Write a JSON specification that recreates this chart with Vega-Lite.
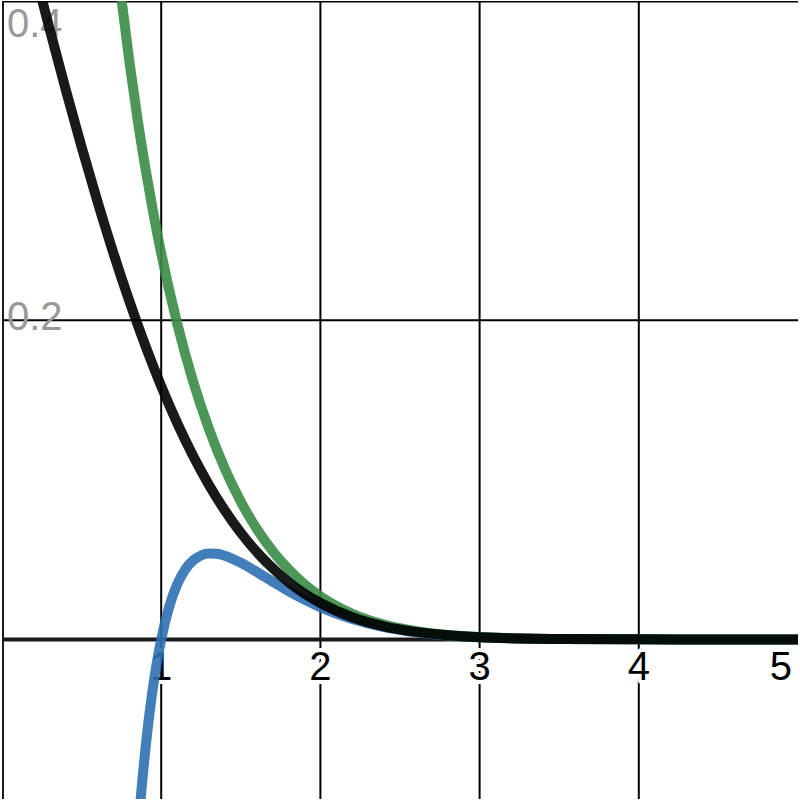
{
  "$schema": "https://vega.github.io/schema/vega-lite/v6.json",
  "width": 800,
  "height": 800,
  "autosize": {"type": "fit", "contains": "padding"},
  "padding": 0,
  "background": "white",
  "config": {"view": {"stroke": null}},
  "datasets": {
    "vgrid": [{"x": 1}, {"x": 2}, {"x": 3}, {"x": 4}],
    "hgrid": [{"y": 0.2}],
    "topgrid": [{"y": 0.4}],
    "yaxis": [{"x": 0}],
    "xaxis": [{"y": 0}],
    "xlabels": [{"x": 1, "y": 0, "label": "1"}, {"x": 2, "y": 0, "label": "2"}, {"x": 3, "y": 0, "label": "3"}, {"x": 4, "y": 0, "label": "4"}],
    "xlabel5": [{"x": 5, "y": 0, "label": "5"}],
    "ylabel2": [{"x": 0, "y": 0.2, "label": "0.2"}],
    "ylabel4": [{"x": 0, "y": 0.4, "label": "0.4"}],
    "blue": [
      {"x": 0.8, "y": -0.2037}, {"x": 0.82, "y": -0.1694}, {"x": 0.84, "y": -0.1393}, {"x": 0.86, "y": -0.1128},
      {"x": 0.88, "y": -0.0897}, {"x": 0.9, "y": -0.0694}, {"x": 0.92, "y": -0.0515}, {"x": 0.94, "y": -0.0359},
      {"x": 0.96, "y": -0.0223}, {"x": 0.98, "y": -0.0104}, {"x": 1.0, "y": 0}, {"x": 1.05, "y": 0.0204},
      {"x": 1.1, "y": 0.0344}, {"x": 1.15, "y": 0.0437}, {"x": 1.2, "y": 0.0494}, {"x": 1.25, "y": 0.0526},
      {"x": 1.3, "y": 0.0538}, {"x": 1.35, "y": 0.0536}, {"x": 1.4, "y": 0.0524}, {"x": 1.5, "y": 0.048},
      {"x": 1.6, "y": 0.0423}, {"x": 1.7, "y": 0.0362}, {"x": 1.8, "y": 0.0303}, {"x": 1.9, "y": 0.025},
      {"x": 2.0, "y": 0.0202}, {"x": 2.2, "y": 0.0128}, {"x": 2.4, "y": 0.0077}, {"x": 2.6, "y": 0.0045},
      {"x": 2.8, "y": 0.0025}, {"x": 3.0, "y": 0.0013}, {"x": 3.25, "y": 0.00057}, {"x": 3.5, "y": 0.00023},
      {"x": 4.0, "y": 0.00003}, {"x": 4.5, "y": 0.000003}, {"x": 5.0, "y": 0.0000003}
    ],
    "green": [
      {"x": 0.6, "y": 0.5554}, {"x": 0.65, "y": 0.4967}, {"x": 0.7, "y": 0.4461}, {"x": 0.75, "y": 0.4015},
      {"x": 0.8, "y": 0.3621}, {"x": 0.85, "y": 0.327}, {"x": 0.9, "y": 0.2957}, {"x": 0.95, "y": 0.2674},
      {"x": 1.0, "y": 0.242}, {"x": 1.1, "y": 0.1981}, {"x": 1.2, "y": 0.1618}, {"x": 1.3, "y": 0.1318},
      {"x": 1.4, "y": 0.1069}, {"x": 1.5, "y": 0.0863}, {"x": 1.6, "y": 0.0693}, {"x": 1.7, "y": 0.0553},
      {"x": 1.8, "y": 0.0439}, {"x": 1.9, "y": 0.0345}, {"x": 2.0, "y": 0.027}, {"x": 2.2, "y": 0.0161},
      {"x": 2.4, "y": 0.0093}, {"x": 2.6, "y": 0.0052}, {"x": 2.8, "y": 0.0028}, {"x": 3.0, "y": 0.00148},
      {"x": 3.25, "y": 0.00062}, {"x": 3.5, "y": 0.00025}, {"x": 4.0, "y": 0.000034}, {"x": 4.5, "y": 0.0000036},
      {"x": 5.0, "y": 0.0000003}
    ],
    "black": [
      {"x": 0.0, "y": 0.5}, {"x": 0.1, "y": 0.4602}, {"x": 0.2, "y": 0.4207}, {"x": 0.3, "y": 0.3821},
      {"x": 0.4, "y": 0.3446}, {"x": 0.5, "y": 0.3085}, {"x": 0.6, "y": 0.2743}, {"x": 0.7, "y": 0.242},
      {"x": 0.8, "y": 0.2119}, {"x": 0.9, "y": 0.1841}, {"x": 1.0, "y": 0.1587}, {"x": 1.1, "y": 0.1357},
      {"x": 1.2, "y": 0.1151}, {"x": 1.3, "y": 0.0968}, {"x": 1.4, "y": 0.0808}, {"x": 1.5, "y": 0.0668},
      {"x": 1.6, "y": 0.0548}, {"x": 1.7, "y": 0.0446}, {"x": 1.8, "y": 0.0359}, {"x": 1.9, "y": 0.0287},
      {"x": 2.0, "y": 0.0228}, {"x": 2.2, "y": 0.0139}, {"x": 2.4, "y": 0.0082}, {"x": 2.6, "y": 0.0047},
      {"x": 2.8, "y": 0.0026}, {"x": 3.0, "y": 0.00135}, {"x": 3.25, "y": 0.00058}, {"x": 3.5, "y": 0.00023},
      {"x": 4.0, "y": 0.00003}, {"x": 4.5, "y": 0.0000034}, {"x": 5.0, "y": 0.0000003}
    ]
  },
  "layer": [
    {
      "data": {"name": "vgrid"},
      "mark": {"type": "rule", "color": "#000000", "strokeWidth": 2},
      "encoding": {"x": {"field": "x", "type": "quantitative", "scale": {"domain": [0, 5], "nice": false, "zero": false}, "axis": null}}
    },
    {
      "data": {"name": "hgrid"},
      "mark": {"type": "rule", "color": "#000000", "strokeWidth": 2},
      "encoding": {"y": {"field": "y", "type": "quantitative", "scale": {"domain": [-0.1, 0.4], "nice": false, "zero": false}, "axis": null}}
    },
    {
      "data": {"name": "topgrid"},
      "mark": {"type": "rule", "color": "#000000", "strokeWidth": 3, "clip": true},
      "encoding": {"y": {"field": "y", "type": "quantitative", "axis": null}}
    },
    {
      "data": {"name": "yaxis"},
      "mark": {"type": "rule", "color": "#1a1a1a", "strokeWidth": 4, "clip": true},
      "encoding": {"x": {"field": "x", "type": "quantitative", "axis": null}}
    },
    {
      "data": {"name": "xaxis"},
      "mark": {"type": "rule", "color": "#1a1a1a", "strokeWidth": 4},
      "encoding": {"y": {"field": "y", "type": "quantitative", "axis": null}}
    },
    {
      "data": {"name": "xlabels"},
      "mark": {"type": "text", "font": "Liberation Sans", "fontSize": 40, "align": "center", "baseline": "top", "dy": 9, "fill": "white", "stroke": "white", "strokeWidth": 8, "strokeJoin": "round"},
      "encoding": {
        "x": {"field": "x", "type": "quantitative", "axis": null},
        "y": {"field": "y", "type": "quantitative", "axis": null},
        "text": {"field": "label"}
      }
    },
    {
      "data": {"name": "xlabels"},
      "mark": {"type": "text", "font": "Liberation Sans", "fontSize": 40, "align": "center", "baseline": "top", "dy": 9, "color": "#000000"},
      "encoding": {
        "x": {"field": "x", "type": "quantitative", "axis": null},
        "y": {"field": "y", "type": "quantitative", "axis": null},
        "text": {"field": "label"}
      }
    },
    {
      "data": {"name": "xlabel5"},
      "mark": {"type": "text", "font": "Liberation Sans", "fontSize": 40, "align": "right", "baseline": "top", "dy": 9, "dx": -6, "color": "#000000"},
      "encoding": {
        "x": {"field": "x", "type": "quantitative", "axis": null},
        "y": {"field": "y", "type": "quantitative", "axis": null},
        "text": {"field": "label"}
      }
    },
    {
      "data": {"name": "ylabel2"},
      "mark": {"type": "text", "font": "Liberation Sans", "fontSize": 40, "align": "left", "baseline": "alphabetic", "dx": 5, "dy": 10, "color": "#999999"},
      "encoding": {
        "x": {"field": "x", "type": "quantitative", "axis": null},
        "y": {"field": "y", "type": "quantitative", "axis": null},
        "text": {"field": "label"}
      }
    },
    {
      "data": {"name": "ylabel4"},
      "mark": {"type": "text", "font": "Liberation Sans", "fontSize": 40, "align": "left", "baseline": "alphabetic", "dx": 5, "dy": 36, "color": "#999999"},
      "encoding": {
        "x": {"field": "x", "type": "quantitative", "axis": null},
        "y": {"field": "y", "type": "quantitative", "axis": null},
        "text": {"field": "label"}
      }
    },
    {
      "data": {"name": "blue"},
      "mark": {"type": "line", "color": "#2d70b3", "strokeOpacity": 0.9, "strokeWidth": 10, "clip": true, "interpolate": "monotone"},
      "encoding": {
        "x": {"field": "x", "type": "quantitative", "axis": null},
        "y": {"field": "y", "type": "quantitative", "axis": null}
      }
    },
    {
      "data": {"name": "green"},
      "mark": {"type": "line", "color": "#388c46", "strokeOpacity": 0.9, "strokeWidth": 10, "clip": true, "interpolate": "monotone"},
      "encoding": {
        "x": {"field": "x", "type": "quantitative", "axis": null},
        "y": {"field": "y", "type": "quantitative", "axis": null}
      }
    },
    {
      "data": {"name": "black"},
      "mark": {"type": "line", "color": "#000000", "strokeOpacity": 0.9, "strokeWidth": 10, "clip": true, "interpolate": "monotone"},
      "encoding": {
        "x": {"field": "x", "type": "quantitative", "axis": null},
        "y": {"field": "y", "type": "quantitative", "axis": null}
      }
    }
  ]
}
